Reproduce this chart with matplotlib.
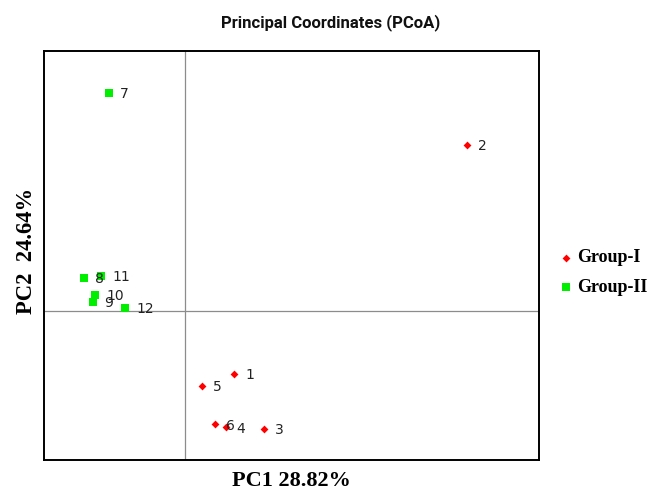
import matplotlib
matplotlib.use("Agg")
import matplotlib.pyplot as plt

# PCoA coordinates
group1_ids = ["1", "2", "3", "4", "5", "6"]
group1_pc1 = [0.069, 0.398, 0.111, 0.057, 0.023, 0.042]
group1_pc2 = [-0.084, 0.224, -0.158, -0.156, -0.100, -0.152]

group2_ids = ["7", "8", "9", "10", "11", "12"]
group2_pc1 = [-0.108, -0.143, -0.131, -0.128, -0.119, -0.0855]
group2_pc2 = [0.294, 0.045, 0.0125, 0.022, 0.0474, 0.0044]

x_label = "PC1 28.82%"
y_label = "PC2  24.64%"
title = "Principal Coordinates (PCoA)"

fig = plt.figure(figsize=(6.51, 4.93), dpi=100)
ax = fig.add_axes([0.0676, 0.0669, 0.760, 0.8296])

ax.axvline(0, color="#8c8c8c", lw=0.9, zorder=1)
ax.axhline(0, color="#8c8c8c", lw=0.9, zorder=1)

ax.scatter(group1_pc1, group1_pc2, marker="D", s=16, color="#ff0000",
           label="Group-I", zorder=3, linewidths=0)
ax.scatter(group2_pc1, group2_pc2, marker="s", s=26, color="#00ee00",
           label="Group-II", zorder=3, linewidths=0)

for ids, xs, ys in [(group1_ids, group1_pc1, group1_pc2),
                    (group2_ids, group2_pc1, group2_pc2)]:
    for name, x, y in zip(ids, xs, ys):
        ax.annotate(name, (x, y), xytext=(8, -1), textcoords="offset points",
                    fontsize=10, va="center", ha="left", color="#222222",
                    zorder=4)

ax.set_xlim(-0.2, 0.5)
ax.set_ylim(-0.2, 0.35)
ax.set_xticks([])
ax.set_yticks([])
for sp in ax.spines.values():
    sp.set_linewidth(1.4)
    sp.set_color("black")

# title is centred on the figure, not on the axes
fig.text(0.508, 0.955, title, fontsize=12, fontweight="bold", color="#111111",
         family="Roboto", ha="center", va="center")
ax.set_xlabel(x_label, fontsize=16, fontweight="bold", family="Liberation Serif", labelpad=8)
ax.set_ylabel(y_label, fontsize=16.3, fontweight="bold", family="Liberation Serif")
ax.yaxis.set_label_coords(-0.015, 0.512)

leg = ax.legend(loc="upper left", bbox_to_anchor=(1.012, 0.555), frameon=False,
                prop={"family": "Liberation Serif", "weight": "bold", "size": 13},
                handlelength=0.6, handletextpad=0.3, labelspacing=0.7,
                markerscale=1.0)

fig.savefig("out.png", dpi=100)
